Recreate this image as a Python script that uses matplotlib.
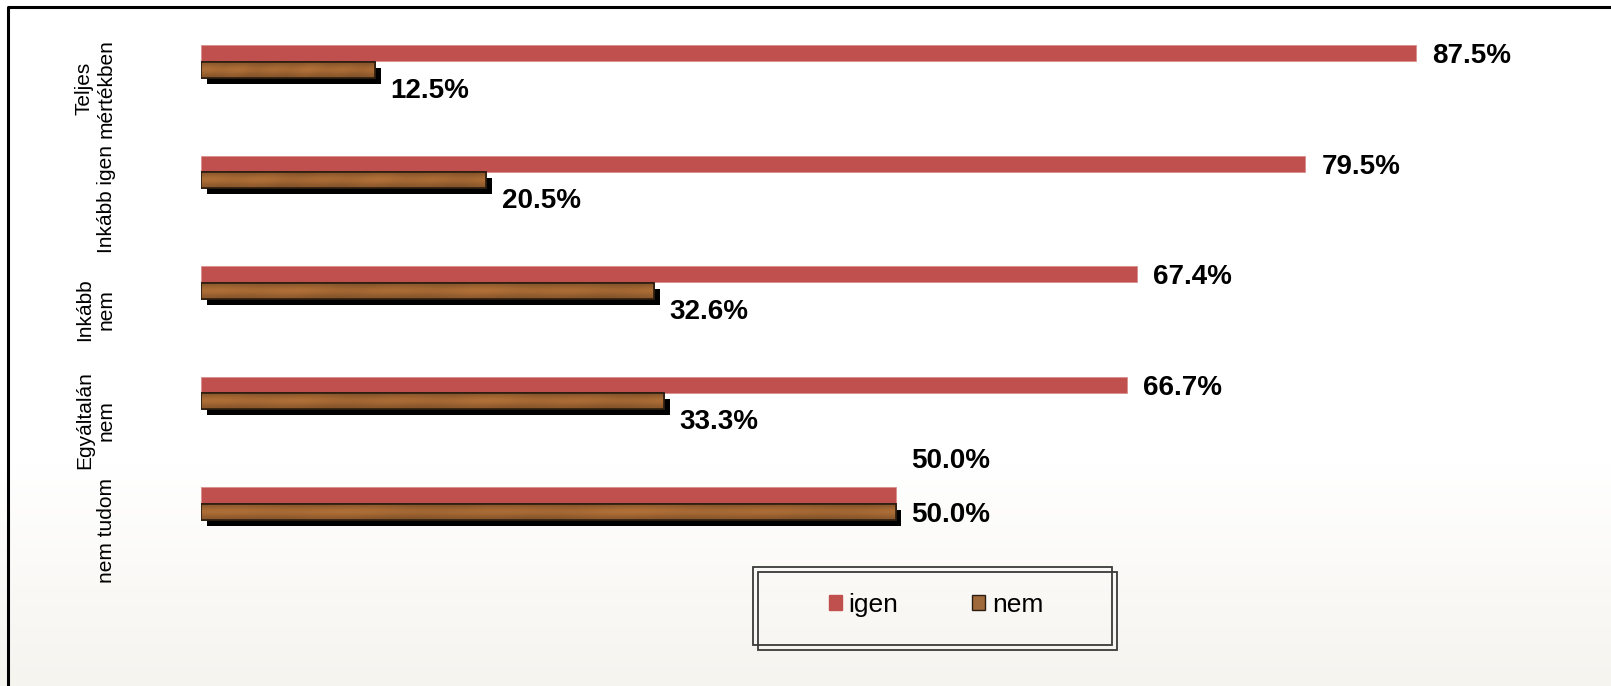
import matplotlib
matplotlib.use("Agg")
import matplotlib.pyplot as plt
import matplotlib.patheffects as pe
import matplotlib.transforms as mtransforms
from matplotlib.patches import Patch, Rectangle
from matplotlib.lines import Line2D
import numpy as np

plt.rcParams["font.family"] = ["Liberation Sans", "DejaVu Sans"]

# data
categories = ["Teljes\nmértékben", "Inkább igen", "Inkább\nnem", "Egyáltalán\nnem", "nem tudom"]
igen = [87.5, 79.5, 67.4, 66.7, 50.0]
nem = [12.5, 20.5, 32.6, 33.3, 50.0]
series_names = ["igen", "nem"]

# label placement (pixel offsets of the label centre from the bar centre)
igen_dy = [0, 0, 0, 0, 37]
nem_dy = [-18, -18, -18, -18, 0]

W, H = 1611, 686
fig = plt.figure(figsize=(W / 100, H / 100), dpi=100)

# background: white fading to a light warm grey at the bottom
bg = fig.add_axes([0, 0, 1, 1], zorder=-10)
t = np.clip((np.linspace(0, 1, 300) - 0.68) / 0.32, 0, 1)[:, None]
top = np.array([1.0, 1.0, 1.0])
bot = np.array([0.965, 0.957, 0.937])
grad = top * (1 - t[..., None]) + bot * t[..., None]
bg.imshow(grad, aspect="auto", extent=[0, 1, 0, 1])
bg.axis("off")

# outer frame (left and top)
fig.add_artist(Line2D([8 / W, 8 / W, 1], [0, 1 - 7 / H, 1 - 7 / H],
                      transform=fig.transFigure, color="black", lw=2.2))

ax = fig.add_axes([201 / W, 1 - 558.75 / H, 1389 / W, 552.5 / H])
ax.set_facecolor("none")

y = np.arange(len(categories))
h = 0.145
off = 0.075

red = "#c0504d"
wood = "#a0693a"
edge = "#2b1d10"

ax.barh(y - off, igen, height=h, color=red, edgecolor="#d98f8d", lw=0.6, zorder=2)
nem_bars = ax.barh(y + off, nem, height=h, color=wood, edgecolor=edge, lw=1.2, zorder=2,
                   path_effects=[pe.SimplePatchShadow(offset=(4.3, -4.3), shadow_rgbFace="black", alpha=1),
                                 pe.Normal()])

# wood-like texture in the "nem" bars (soft, lighter in the middle)
xx = np.linspace(0, 1, 400)
yy = np.linspace(0, 1, 12)[:, None]
prof = 0.84 + 0.2 * np.sin(np.pi * yy) ** 2
streak = 1 + 0.025 * np.sin(2 * np.pi * 5 * xx + 2 * yy) + 0.02 * np.sin(2 * np.pi * 2 * xx)
shade = prof * streak
base = np.array([0.57, 0.36, 0.18])
tex = np.clip(base * shade[..., None] * 1.12, 0, 1)
for b in nem_bars:
    x0, y0, bw, bh = b.get_x(), b.get_y(), b.get_width(), b.get_height()
    im = ax.imshow(tex, extent=[x0, x0 + bw, y0 + bh, y0], aspect="auto",
                   interpolation="bilinear", zorder=2.5)
    im.set_clip_path(b)
ax.barh(y + off, nem, height=h, facecolor="none", edgecolor=edge, lw=1.2, zorder=3)

ax.set_xlim(0, 100)
ax.set_ylim(len(categories) - 0.5, -0.5)
ax.axis("off")

# value labels
for i in range(len(categories)):
    ax.annotate("{:.1f}%".format(igen[i]), (igen[i], i - off), xytext=(16, igen_dy[i] - 10),
                textcoords="offset pixels", ha="left", va="baseline",
                fontsize=20, fontweight="bold", color="black")
    ax.annotate("{:.1f}%".format(nem[i]), (nem[i], i + off), xytext=(16, nem_dy[i] - 10),
                textcoords="offset pixels", ha="left", va="baseline",
                fontsize=20, fontweight="bold", color="black")

# category labels
trans = mtransforms.blended_transform_factory(fig.transFigure, ax.transData)
for i, c in enumerate(categories):
    ax.text(116 / W, i + 0.245, c, transform=trans, rotation=90, ha="right", va="center",
            multialignment="center", fontsize=15, color="black", linespacing=1.2)

# legend with a double frame
for dx in (0, 5):
    fig.add_artist(Rectangle(((753 + dx) / W, 1 - (645 + dx) / H), (1112 - 753) / W, (645 - 567) / H,
                             transform=fig.transFigure, fill=False, ec="#3a3a3a", lw=1.3))
handles = [Patch(facecolor=red, edgecolor=red), Patch(facecolor=wood, edgecolor=edge)]
fig.legend(handles, series_names, loc="center", bbox_to_anchor=(936 / W, 1 - 605 / H),
           ncol=2, frameon=False, fontsize=19, handlelength=0.5, handleheight=0.5,
           handletextpad=0.25, columnspacing=2.8)

fig.savefig("out.png", dpi=100)
